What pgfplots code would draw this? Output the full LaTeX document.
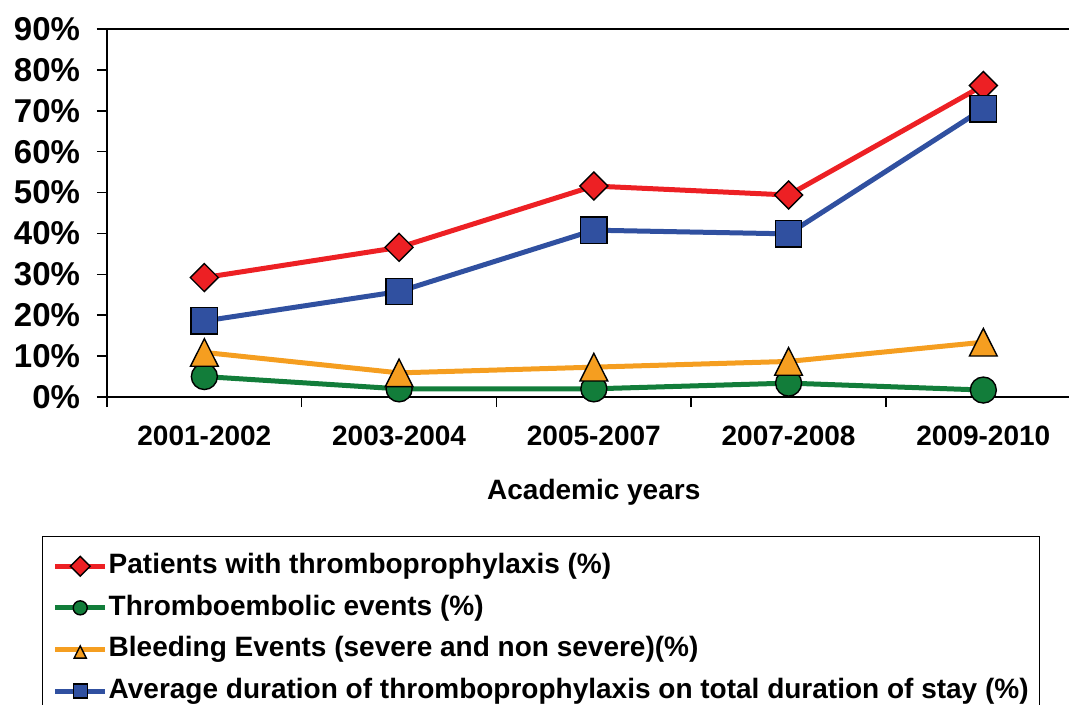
\documentclass[border=0pt]{standalone}
\usepackage{pgfplots}
\pgfplotsset{compat=1.18}
\usepackage{fontspec}
\setmainfont{Liberation Sans}
\definecolor{cred}{RGB}{237,32,36}
\definecolor{cgreen}{RGB}{18,125,58}
\definecolor{corange}{RGB}{245,158,32}
\definecolor{cblue}{RGB}{48,80,160}
\begin{document}
\begin{tikzpicture}
\useasboundingbox (-53.5bp,-154bp) rectangle (481bp,198.5bp);
\begin{axis}[
  at={(0,0)}, anchor=south west,
  scale only axis, width=481bp, height=184bp,
  xmin=-0.5, xmax=4.44, ymin=0, ymax=90,
  clip=false,
  axis lines=left, axis line style={-, line width=0.75bp},
  tick align=outside,
  xtick={0,1,2,3,4},
  xticklabels={2001-2002,2003-2004,2005-2007,2007-2008,2009-2010},
  major x tick style={draw=none},
  minor xtick={-0.5,0.5,1.5,2.5,3.5},
  minor x tick style={black, line width=0.75bp},
  minor tick length=5bp, major tick length=5bp,
  ytick={0,10,...,90},
  yticklabels={0\%,10\%,20\%,30\%,40\%,50\%,60\%,70\%,80\%,90\%},
  major y tick style={black, line width=0.75bp},
  extra y ticks={90}, extra y tick labels={},
  extra y tick style={grid=major, major grid style={black, line width=0.75bp}},
  yticklabel style={font=\fontsize{16.5bp}{18bp}\selectfont\bfseries, xshift=-5bp},
  xticklabel style={font=\fontsize{14bp}{16bp}\selectfont\bfseries, yshift=-6bp},
  xlabel={Academic years},
  xlabel style={font=\fontsize{14bp}{16bp}\selectfont\bfseries, at={(axis description cs:0.506,-0.258)}, anchor=center},
  legend cell align=left,
  legend style={at={(-0.0676,-0.3777)}, anchor=north west, draw=black, line width=0.75bp,
    font=\fontsize{14bp}{16bp}\selectfont\bfseries, inner xsep=5bp, inner ysep=7.5bp,
    row sep=6.3bp, nodes={inner sep=0.5bp, text height=10.5bp, text depth=3bp}},
  legend image code/.code={\draw[mark repeat=2,mark phase=2] plot coordinates {(0bp,0bp) (12.5bp,0bp) (25bp,0bp)};},
  legend image post style={mark size=3.5bp},
]
\addplot[color=cred, line width=2.5bp, mark=square*, mark size=4.95bp,
  mark options={fill=cred, draw=black, line width=0.7bp, rotate=45}]
  coordinates {(0,29.2) (1,36.6) (2,51.6) (3,49.4) (4,76.2)};
\addlegendentry{Patients with thromboprophylaxis (\%)}
\addplot[color=cgreen, line width=2.5bp, mark=*, mark size=6.5bp,
  mark options={fill=cgreen, draw=black, line width=0.7bp}]
  coordinates {(0,5.0) (1,2.0) (2,2.0) (3,3.4) (4,1.7)};
\addlegendentry{Thromboembolic events (\%)}
\addplot[color=corange, line width=2.5bp, mark=triangle*, mark size=8bp,
  mark options={fill=corange, draw=black, line width=0.7bp, yscale=1.15, yshift=-2bp}]
  coordinates {(0,10.9) (1,5.9) (2,7.3) (3,8.7) (4,13.4)};
\addlegendentry{Bleeding Events (severe and non severe)(\%)}
\addplot[color=cblue, line width=2.5bp, mark=square*, mark size=6.6bp,
  mark options={fill=cblue, draw=black, line width=0.7bp}]
  coordinates {(0,18.6) (1,25.8) (2,40.8) (3,39.9) (4,70.5)};
\addlegendentry{Average duration of thromboprophylaxis on total duration of stay (\%)}
\end{axis}
\end{tikzpicture}
\end{document}
